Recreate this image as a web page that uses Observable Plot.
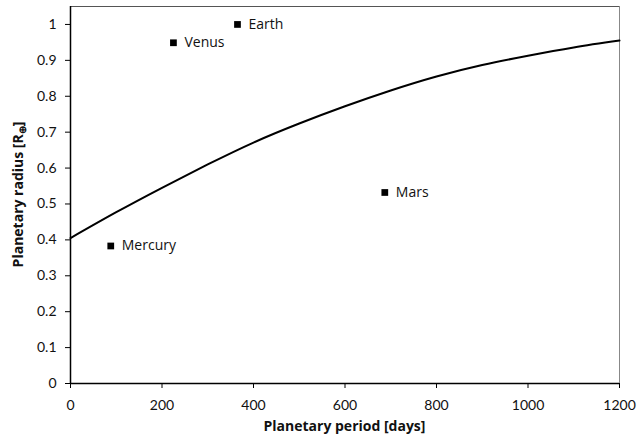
<!DOCTYPE html>
<html>
<head>
<meta charset="utf-8">
<script src="https://cdn.jsdelivr.net/npm/d3@7"></script>
<script src="https://cdn.jsdelivr.net/npm/@observablehq/plot@0.6"></script>
<style>
  body { margin: 0; background: #fff; }
  #chart { width: 639px; height: 440px; }
</style>
</head>
<body>
<div id="chart"></div>
<script>
// Planets (period in days, radius in Earth radii)
const planetNames = ["Mercury", "Venus", "Earth", "Mars"];
const planetPeriods = [88, 225, 365, 687];
const planetRadii = [0.383, 0.949, 1.0, 0.532];

// Fitted curve
const curvePeriods = [0, 100, 200, 300, 400, 500, 600, 700, 800, 900, 1000, 1100, 1200];
const curveRadii = [0.405, 0.477, 0.545, 0.610, 0.671, 0.724, 0.772, 0.816, 0.855, 0.887, 0.913, 0.936, 0.955];

const xTicks = [0, 200, 400, 600, 800, 1000, 1200];
const yTicks = [0, 0.1, 0.2, 0.3, 0.4, 0.5, 0.6, 0.7, 0.8, 0.9, 1];

const planets = planetNames.map((name, i) => ({name, period: planetPeriods[i], radius: planetRadii[i]}));
const curve = curvePeriods.map((p, i) => ({period: p, radius: curveRadii[i]}));

const font = "Lato, 'Open Sans', sans-serif";
const titleFont = "'Open Sans', Lato, sans-serif";

const chart = Plot.plot({
  width: 639,
  height: 440,
  marginLeft: 70,
  marginRight: 20,
  marginTop: 6,
  marginBottom: 57,
  style: {fontFamily: font, fontSize: "14px", color: "#111", background: "#fff"},
  x: {domain: [0, 1200], ticks: xTicks, tickFormat: d => String(d), tickSize: 5, tickPadding: 12, label: null},
  y: {domain: [0, 1.05], ticks: yTicks, tickFormat: d => String(+d.toFixed(1)), tickSize: 5, tickPadding: 9, label: null},
  marks: [
    Plot.ruleY([1.05], {stroke: "#555", strokeWidth: 1}),
    Plot.ruleX([1200], {stroke: "#888", strokeWidth: 1}),
    Plot.line(curve, {x: "period", y: "radius", curve: "natural", stroke: "#000", strokeWidth: 2}),
    Plot.ruleX([0], {stroke: "#000", strokeWidth: 1.5}),
    Plot.ruleY([0], {stroke: "#000", strokeWidth: 1.5}),
    Plot.dot(planets, {x: "period", y: "radius", symbol: "square", r: 3.8, fill: "#000", stroke: "none"}),
    Plot.text(planets, {x: "period", y: "radius", text: "name", textAnchor: "start", dx: 11, fontSize: 14, fontFamily: titleFont, fill: "#111"})
  ]
});

const svg = d3.select(chart);
svg.selectAll("[aria-label='x-axis tick'] path, [aria-label='y-axis tick'] path").attr("stroke", "#000");

// Axis titles
svg.append("text")
  .attr("x", 70 + (619 - 70) / 2)
  .attr("y", 431)
  .attr("text-anchor", "middle")
  .attr("font-family", titleFont)
  .attr("font-size", 14)
  .attr("font-weight", "bold")
  .attr("fill", "#111")
  .text("Planetary period [days]");

const yt = svg.append("text")
  .attr("transform", `translate(23, ${(6 + 383) / 2}) rotate(-90)`)
  .attr("text-anchor", "middle")
  .attr("font-family", titleFont)
  .attr("font-size", 14)
  .attr("font-weight", "bold")
  .attr("fill", "#111");
yt.append("tspan").text("Planetary radius [R");
yt.append("tspan").attr("font-size", 10).attr("dy", 3).text("⊕");
yt.append("tspan").attr("dy", -3).text("]");

document.getElementById("chart").appendChild(chart);
</script>
</body>
</html>
